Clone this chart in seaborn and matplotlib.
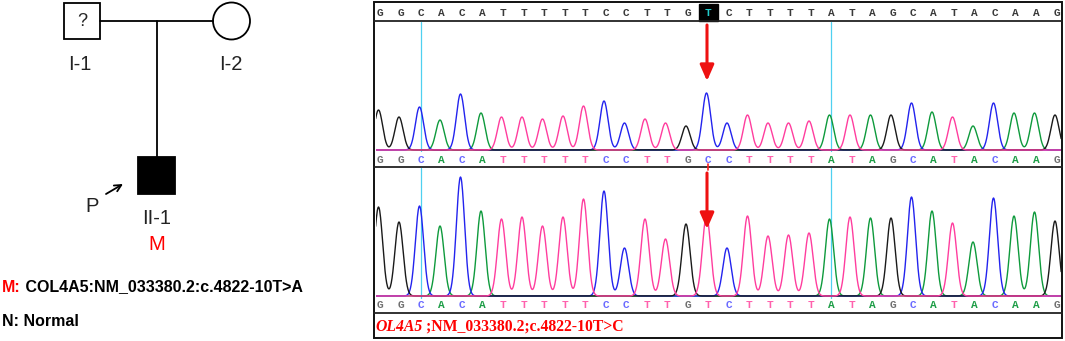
import numpy as np
import pandas as pd
import matplotlib
matplotlib.use("Agg")
import matplotlib.pyplot as plt
import seaborn as sns
from matplotlib.patches import Rectangle, Circle

# ---------------- data ----------------
ref_seq = list("GGCACATTTTTCCTTGTCTTTTATAGCATACAAG")
seq1 = list("GGCACATTTTTCCTTGCCTTTTATAGCATACAAG")
seq2 = list("GGCACATTTTTCCTTGTCTTTTATAGCATACAAG")
h1 = [40, 33, 43, 30, 56, 37, 33, 33, 31, 34, 44, 49, 27, 31, 27, 24, 57, 27,
      35, 27, 27, 29, 35, 35, 35, 35, 47, 38, 33, 24, 47, 37, 37, 35]
h2 = [89, 74, 90, 70, 119, 85, 77, 79, 70, 79, 97, 105, 48, 77, 57, 72, 80, 48,
      80, 60, 61, 63, 77, 79, 78, 78, 99, 85, 73, 54, 98, 80, 84, 75]
mut_index = 16
cursor_bases = [2, 22]
caption_italic = "OL4A5"
caption_rest = " ;NM_033380.2;c.4822-10T>C"
legend_m = "COL4A5:NM_033380.2:c.4822-10T>A"

trace_col = {"A": "#0e9a3c", "C": "#2323ee", "G": "#1a1a1a", "T": "#ff3d9e"}
letter_col = {"A": "#1f9e48", "C": "#6b6bff", "G": "#707070", "T": "#ff62ad"}

sns.set_theme(style="white")
plt.rcParams["font.family"] = ["Liberation Sans", "DejaVu Sans"]
SANS = "Liberation Sans"

W, H = 1065, 341
fig = plt.figure(figsize=(W / 100, H / 100), dpi=100)
bg = fig.add_axes([0, 0, 1, 1])
bg.set_xlim(0, W)
bg.set_ylim(H, 0)
bg.axis("off")

# ---------------- pedigree ----------------
lw = 1.3
bg.add_patch(Rectangle((64, 3), 36, 36, fill=False, ec="black", lw=lw))
bg.text(82, 22, "?", ha="center", va="center", fontsize=13, family=SANS)
bg.add_patch(Circle((231.5, 21), 18.5, fill=False, ec="black", lw=lw))
bg.plot([100, 213], [21, 21], color="black", lw=lw)
bg.plot([157, 157], [21, 157], color="black", lw=lw)
bg.add_patch(Rectangle((138, 157), 37, 37, fc="black", ec="black", lw=lw))
lab_kw = dict(ha="center", va="center", fontsize=14.5, family=SANS)
bg.text(80, 64, "I-1", color="#222222", **lab_kw)
bg.text(231, 64, "I-2", color="#222222", **lab_kw)
bg.text(157, 218, "II-1", color="#222222", **lab_kw)
bg.text(157, 245, "M", color="#ff0000", **lab_kw)
bg.text(92, 207, "P", color="#222222", **lab_kw)
bg.annotate("", xy=(123, 184), xytext=(106, 194),
            arrowprops=dict(arrowstyle="->", lw=1.3, color="black",
                            shrinkA=0, shrinkB=0))

leg_kw = dict(fontsize=11.5, fontweight="bold", family=SANS)
t_m = bg.text(2, 287, "M:", ha="left", va="center", color="#ff0000", **leg_kw)
bg.annotate(" " + legend_m, xy=(1, 0), xycoords=t_m, ha="left", va="bottom",
            color="black", **leg_kw)
bg.text(2, 322, "N: Normal", ha="left", va="center", color="black", **leg_kw)

# ---------------- chromatogram frame ----------------
X0, X1 = 374, 1062
bg.add_patch(Rectangle((X0, 2), X1 - X0, 336, fill=False, ec="#111111", lw=1.4))
for yy in [21, 167, 313]:
    bg.plot([X0, X1], [yy, yy], color="#222222", lw=1.3)

letter_x0, spacing = 380.0, 20.5
n = len(ref_seq)
let_kw = dict(ha="center", va="center", fontsize=8, family="Liberation Mono",
              fontweight="bold")
for i in range(n):
    x = letter_x0 + spacing * i
    if i == mut_index:
        bg.add_patch(Rectangle((x - 9.5, 3.5), 19, 17, fc="black", ec="black"))
        bg.text(x, 12.5, ref_seq[i], color="#22cccc", **let_kw)
    else:
        bg.text(x, 12.5, ref_seq[i], color="#3a3a3a", **let_kw)
    bg.text(x, 160, seq1[i], color=letter_col[seq1[i]], **let_kw)
    bg.text(x, 305, seq2[i], color=letter_col[seq2[i]], **let_kw)

for b in cursor_bases:
    x = letter_x0 + spacing * b
    bg.plot([x, x], [22, 151], color="#4fd0f0", lw=0.9)
    bg.plot([x, x], [168, 298], color="#4fd0f0", lw=0.9)

# small cursor mark
xm = letter_x0 + spacing * mut_index
bg.plot([xm, xm], [164, 170], color="#ff2020", lw=1.2)

cap_kw = dict(fontsize=11.3, family="Liberation Serif", fontweight="bold",
              color="#ff0000")
t_c = bg.text(375, 327, caption_italic, ha="left", va="center", style="italic",
              **cap_kw)
bg.annotate(caption_rest, xy=(1, 0), xycoords=t_c, ha="left", va="bottom",
            **cap_kw)

# ---------------- traces ----------------
peak_x0 = 378.5
sigma = 0.2
grid = np.arange(-1.0, n + 0.5, 0.02)


def build(seq, heights):
    rows = []
    for base in ["A", "C", "G", "T"]:
        sig = np.zeros_like(grid)
        for i, (s, h) in enumerate(zip(seq, heights)):
            if s == base:
                sig += h * np.exp(-((grid - i) ** 2) / (2 * sigma ** 2))
        rows.append(pd.DataFrame({"pos": grid, "signal": sig, "base": base}))
    return pd.concat(rows, ignore_index=True)


panels = [(seq1, h1, 22, 152), (seq2, h2, 168, 298)]
arrow_x = (707 - peak_x0) / spacing
for seq, hts, ytop, ybot in panels:
    ax = fig.add_axes([376 / W, 1 - ybot / H, (1061 - 376) / W, (ybot - ytop) / H])
    ax.patch.set_alpha(0)
    df = build(seq, hts)
    sns.lineplot(data=df, x="pos", y="signal", hue="base",
                 hue_order=["A", "C", "G", "T"], palette=trace_col,
                 estimator=None, sort=False, legend=False, lw=1.0, ax=ax)
    ax.set_xlim((376 - peak_x0) / spacing, (1061 - peak_x0) / spacing)
    ax.set_ylim(-2, 128)
    ax.axis("off")
    top_y = 125 if ytop == 22 else 123
    ax.annotate("", xy=(arrow_x, top_y - 56), xytext=(arrow_x, top_y),
                arrowprops=dict(arrowstyle="-|>,head_width=0.35,head_length=0.8",
                                lw=2.2, color="#ee1111", shrinkA=0, shrinkB=0),
                annotation_clip=False)

fig.savefig("out.png", dpi=100)
